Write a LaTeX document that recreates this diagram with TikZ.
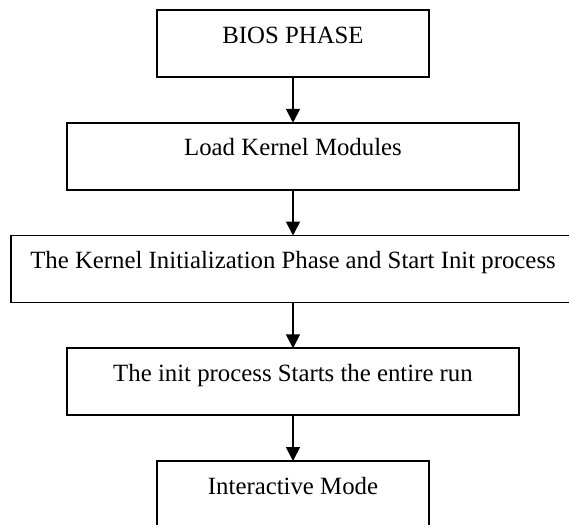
\documentclass[tikz,border=0pt]{standalone}
\usepackage{fontspec}
\setmainfont{Liberation Serif}
\usetikzlibrary{arrows.meta}
\begin{document}
\begin{tikzpicture}[x=0.5pt,y=-0.5pt,
  stage/.style={draw=black, line width=0.9pt, inner sep=0pt, outer sep=0pt,
    anchor=north, text height=16.5pt, text depth=17pt,
    font=\fontsize{12.4}{14}\selectfont},
  flow/.style={draw=black, line width=0.9pt, -{Triangle[width=7pt,length=7pt]}}]
  \useasboundingbox (0,0) rectangle (569,525);
  \node[stage, minimum width=136pt] (bios)   at (293,10)     {BIOS PHASE};
  \node[stage, minimum width=226pt] (kmod)   at (293,122.75) {Load Kernel Modules};
  \node[stage, minimum width=282pt] (kinit)  at (293,235.5)  {The Kernel Initialization Phase and Start Init process};
  \node[stage, minimum width=226pt] (initp)  at (293,348.25) {The init process Starts the entire run};
  \node[stage, minimum width=136pt] (inter)  at (293,461)    {Interactive Mode};
  \draw[flow] (bios) -- (kmod);
  \draw[flow] (kmod) -- (kinit);
  \draw[flow] (kinit) -- (initp);
  \draw[flow] (initp) -- (inter);
\end{tikzpicture}
\end{document}
